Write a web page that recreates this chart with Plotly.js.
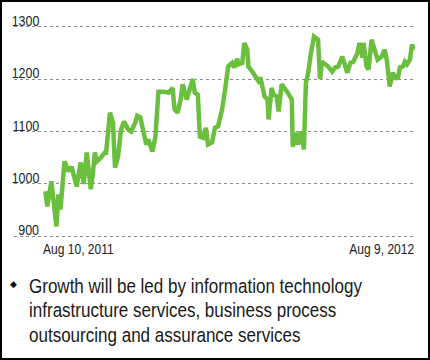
<!DOCTYPE html>
<html>
<head>
<meta charset="utf-8">
<script src="https://cdn.plot.ly/plotly-3.0.1.min.js"></script>
<style>
  html, body { margin: 0; padding: 0; background: #fff; }
  #frame { position: absolute; left: 0; top: 0; width: 430px; height: 360px; box-sizing: border-box; border: 2px solid #000; }
  #chart { position: absolute; left: 0; top: 0; width: 430px; height: 360px; }
</style>
</head>
<body>
<div id="chart"></div>
<div id="frame"></div>
<script>
// Days since Aug 10, 2011
const daysSinceStart = [0,2,6,11,13,15,19,23,26,31,35,36,38,41,45,47,49,51,55,59,60,64,67,69,72,75,78,82,85,89,91,94,97,100,102,106,109,112,117,122,126,128,131,134,136,140,142,146,148,151,153,156,159,161,165,168,171,175,178,181,185,187,190,191,195,197,200,201,205,208,211,213,215,217,220,221,224,226,229,231,234,237,240,244,245,248,250,253,256,258,260,263,266,270,272,274,277,280,284,287,290,294,296,299,302,305,309,311,314,315,318,320,323,326,329,333,336,338,339,341,344,346,349,351,354,356,358,361,363,365];
const indexValues = [986,957,1005,919,980,951,1043,1024,1033,995,1041,1031,1000,1060,990,1018,1060,1043,1050,1060,1056,1136,1117,1031,1052,1104,1119,1104,1100,1117,1130,1127,1098,1075,1085,1062,1090,1176,1176,1174,1183,1142,1136,1161,1190,1161,1174,1200,1174,1170,1090,1088,1107,1075,1079,1107,1110,1142,1180,1224,1231,1222,1239,1228,1231,1269,1256,1224,1214,1205,1196,1203,1186,1167,1161,1123,1183,1170,1167,1138,1190,1183,1174,1161,1071,1098,1075,1100,1066,1193,1209,1250,1281,1275,1200,1233,1228,1224,1214,1222,1224,1243,1231,1212,1231,1233,1250,1269,1241,1269,1224,1218,1275,1256,1237,1243,1256,1237,1218,1186,1212,1205,1200,1222,1224,1233,1228,1237,1266,1256];
const yTickValues = [900,1000,1100,1200,1300];
const yTickLabels = ['900','1000','1100','1200','1300'];
const startLabel = 'Aug 10, 2011';
const endLabel = 'Aug 9, 2012';
const noteLines = [
  'Growth will be led by information technology',
  'infrastructure services, business process',
  'outsourcing and assurance services'
];

const firstDay = daysSinceStart[0];
const lastDay = daysSinceStart[daysSinceStart.length - 1];

const trace = {
  x: daysSinceStart,
  y: indexValues,
  type: 'scatter',
  mode: 'lines',
  line: { color: '#6bbf3f', width: 4.5, shape: 'linear' },
  hoverinfo: 'skip'
};

const font = '"Liberation Sans", Arial, sans-serif';
const noteY = [-0.216, -0.330, -0.442];
const narrow = 0.83;        // horizontal condensing of the text, like a narrow face
const keepSide = [];        // which edge of each annotation stays fixed when condensed

const annotations = [];
function addAnn(a, side) { annotations.push(a); keepSide.push(side); }

addAnn({ x: firstDay, xref: 'x', y: -0.046, yref: 'paper', text: startLabel, showarrow: false,
  xanchor: 'left', yanchor: 'middle', xshift: -4, font: { family: font, size: 14.5, color: '#222' } }, 'left');
addAnn({ x: lastDay, xref: 'x', y: -0.046, yref: 'paper', text: endLabel, showarrow: false,
  xanchor: 'right', yanchor: 'middle', xshift: 2, font: { family: font, size: 14.5, color: '#222' } }, 'right');
addAnn({ x: 0, xref: 'paper', y: -0.209, yref: 'paper', text: '◆', showarrow: false,
  xanchor: 'left', yanchor: 'middle', xshift: -6, font: { family: 'DejaVu Sans', size: 9, color: '#111' } }, null);
yTickValues.forEach((v, i) => {
  addAnn({ x: 0, xref: 'paper', y: v, yref: 'y', text: yTickLabels[i], showarrow: false,
    xanchor: 'right', yanchor: 'bottom', xshift: 27, yshift: -4, font: { family: font, size: 15, color: '#222' } }, 'right');
});
noteLines.forEach((t, i) => {
  addAnn({ x: 0, xref: 'paper', y: noteY[i], yref: 'paper', text: t, showarrow: false,
    xanchor: 'left', yanchor: 'middle', xshift: 13, font: { family: font, size: 20.5, color: '#1a1a1a' } }, 'left');
});

const layout = {
  width: 430, height: 360,
  margin: { l: 14, r: 15, t: 24, b: 121, pad: 0 },
  paper_bgcolor: '#fff', plot_bgcolor: '#fff',
  showlegend: false,
  xaxis: { range: [-31, 366], showgrid: false, zeroline: false, showticklabels: false, ticks: '', showline: false, fixedrange: true },
  yaxis: {
    range: [895, 1305], tickmode: 'array', tickvals: yTickValues,
    showticklabels: false, ticks: '', showline: false, zeroline: false,
    showgrid: true, gridcolor: '#8a8a8a', gridwidth: 1, griddash: 'dot', fixedrange: true
  },
  annotations: annotations
};

const gd = document.getElementById('chart');
Plotly.newPlot(gd, [trace], layout, { displayModeBar: false, staticPlot: true }).then(() => {
  gd.querySelectorAll('.annotation').forEach(g => {
    const idx = +g.getAttribute('data-index');
    const side = keepSide[idx];
    if (!side) return;
    const t = g.querySelector('text.annotation-text');
    if (!t) return;
    try {
      const before = t.getBoundingClientRect();
      const w = t.getComputedTextLength();
      t.setAttribute('textLength', (w * narrow).toFixed(2));
      t.setAttribute('lengthAdjust', 'spacingAndGlyphs');
      const after = t.getBoundingClientRect();
      const dx = side === 'left' ? before.left - after.left : before.right - after.right;
      const prev = t.getAttribute('transform') || '';
      t.setAttribute('transform', (prev + ' translate(' + dx.toFixed(2) + ',0)').trim());
    } catch (e) {}
  });
});
</script>
</body>
</html>
